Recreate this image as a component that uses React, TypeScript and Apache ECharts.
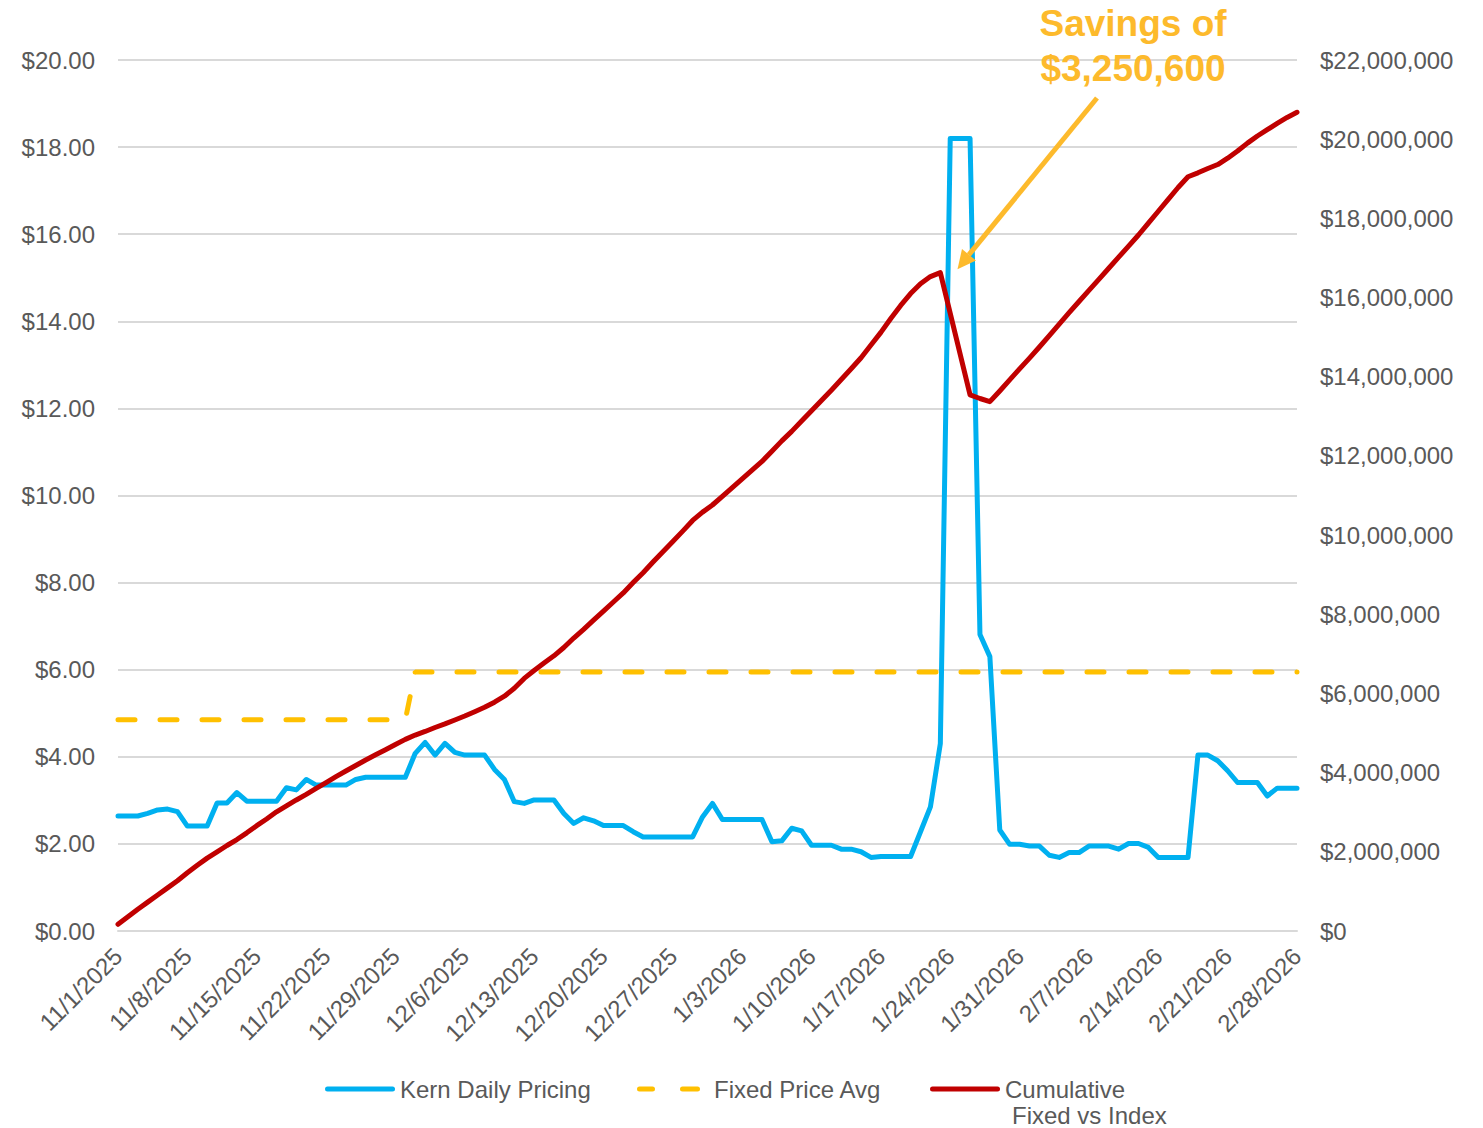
import React, { useEffect, useRef } from "react";
import * as echarts from "echarts";

// Categories: every day from 11/1/2025 to 2/28/2026
const dates: string[] = [];
for (let i = 0; i < 120; i++) {
  const d = new Date(2025, 10, 1 + i);
  dates.push(`${d.getMonth() + 1}/${d.getDate()}/${d.getFullYear()}`);
}

// Kern Daily Pricing ($/unit), left axis
const kernDaily: number[] = [
  2.64, 2.64, 2.64, 2.70, 2.78, 2.80, 2.74, 2.41, 2.41, 2.41,
  2.94, 2.94, 3.18, 2.98, 2.98, 2.98, 2.98, 3.29, 3.24, 3.48,
  3.35, 3.35, 3.35, 3.35, 3.48, 3.53, 3.53, 3.53, 3.53, 3.53,
  4.08, 4.33, 4.04, 4.31, 4.10, 4.04, 4.04, 4.04, 3.71, 3.48,
  2.97, 2.93, 3.01, 3.01, 3.01, 2.70, 2.47, 2.60, 2.53, 2.42,
  2.42, 2.42, 2.28, 2.16, 2.16, 2.16, 2.16, 2.16, 2.16, 2.62,
  2.93, 2.56, 2.56, 2.56, 2.56, 2.56, 2.05, 2.07, 2.36, 2.30,
  1.97, 1.97, 1.97, 1.88, 1.88, 1.82, 1.69, 1.71, 1.71, 1.71,
  1.71, 2.28, 2.85, 4.30, 18.20, 18.20, 18.20, 6.81, 6.30, 2.32,
  1.99, 1.99, 1.95, 1.95, 1.74, 1.69, 1.80, 1.80, 1.95, 1.95,
  1.95, 1.88, 2.01, 2.01, 1.92, 1.69, 1.69, 1.69, 1.69, 4.04,
  4.04, 3.91, 3.68, 3.41, 3.41, 3.41, 3.10, 3.28, 3.28, 3.28,
];

// Fixed Price Avg ($/unit), left axis
const fixedPriceAvg: number[] = [
  4.85, 4.85, 4.85, 4.85, 4.85, 4.85, 4.85, 4.85, 4.85, 4.85,
  4.85, 4.85, 4.85, 4.85, 4.85, 4.85, 4.85, 4.85, 4.85, 4.85,
  4.85, 4.85, 4.85, 4.85, 4.85, 4.85, 4.85, 4.85, 4.85, 4.85,
  5.95, 5.95, 5.95, 5.95, 5.95, 5.95, 5.95, 5.95, 5.95, 5.95,
  5.95, 5.95, 5.95, 5.95, 5.95, 5.95, 5.95, 5.95, 5.95, 5.95,
  5.95, 5.95, 5.95, 5.95, 5.95, 5.95, 5.95, 5.95, 5.95, 5.95,
  5.95, 5.95, 5.95, 5.95, 5.95, 5.95, 5.95, 5.95, 5.95, 5.95,
  5.95, 5.95, 5.95, 5.95, 5.95, 5.95, 5.95, 5.95, 5.95, 5.95,
  5.95, 5.95, 5.95, 5.95, 5.95, 5.95, 5.95, 5.95, 5.95, 5.95,
  5.95, 5.95, 5.95, 5.95, 5.95, 5.95, 5.95, 5.95, 5.95, 5.95,
  5.95, 5.95, 5.95, 5.95, 5.95, 5.95, 5.95, 5.95, 5.95, 5.95,
  5.95, 5.95, 5.95, 5.95, 5.95, 5.95, 5.95, 5.95, 5.95, 5.95,
];

// Cumulative Fixed vs Index ($), right axis
const cumulative: number[] = [
  170000, 360000, 550000, 730000, 910000, 1090000, 1270000, 1470000, 1660000, 1840000,
  2000000, 2160000, 2310000, 2480000, 2660000, 2830000, 3010000, 3160000, 3310000, 3450000,
  3600000, 3750000, 3900000, 4040000, 4180000, 4320000, 4450000, 4580000, 4710000, 4840000,
  4950000, 5040000, 5140000, 5230000, 5330000, 5430000, 5540000, 5650000, 5780000, 5930000,
  6130000, 6380000, 6580000, 6770000, 6950000, 7160000, 7400000, 7620000, 7850000, 8080000,
  8310000, 8540000, 8800000, 9050000, 9320000, 9580000, 9840000, 10100000, 10370000, 10580000,
  10760000, 10980000, 11200000, 11420000, 11640000, 11860000, 12120000, 12380000, 12620000, 12880000,
  13140000, 13400000, 13660000, 13930000, 14200000, 14480000, 14800000, 15120000, 15470000, 15800000,
  16100000, 16350000, 16530000, 16630000, 15600000, 14570000, 13540000, 13450000, 13370000, 13640000,
  13920000, 14200000, 14470000, 14750000, 15040000, 15330000, 15620000, 15900000, 16180000, 16460000,
  16740000, 17020000, 17300000, 17580000, 17880000, 18180000, 18480000, 18780000, 19050000, 19150000,
  19260000, 19360000, 19520000, 19700000, 19900000, 20080000, 20240000, 20400000, 20550000, 20680000,
];

const seriesNames = ["Kern Daily Pricing", "Fixed Price Avg", "Cumulative Fixed vs Index"];
const legendLines = ["Cumulative", "Fixed vs Index"];
const annotationText = "Savings of\n$3,250,600";

const FONT = "'Liberation Sans', Arial, sans-serif";
const GREY = "#595959";
const BLUE = "#00B0F0";
const GOLD = "#FFC000";
const RED = "#C00000";
const ARROW = "#FDBA2C";

const lineIcon = "path://M2.5,0H67.5A2.5,2.5,0,0,1,67.5,5H2.5A2.5,2.5,0,0,1,2.5,0Z";
const dashIcon =
  "path://M2.5,0H15.5A2.5,2.5,0,0,1,15.5,5H2.5A2.5,2.5,0,0,1,2.5,0Z M45.5,0H60.5A2.5,2.5,0,0,1,60.5,5H45.5A2.5,2.5,0,0,1,45.5,0Z M71.9,2.4H72V2.6H71.9Z";

const legendBase = {
  top: 1076.5,
  padding: 0,
  orient: "horizontal",
  itemHeight: 5,
  selectedMode: false,
  itemStyle: { borderWidth: 0 },
  textStyle: { fontSize: 24, color: GREY, fontFamily: FONT, lineHeight: 25 },
};

export default function App() {
  const ref = useRef<HTMLDivElement>(null);

  useEffect(() => {
    if (!ref.current) return;
    const chart = echarts.init(ref.current, undefined, { renderer: "svg" });
    const option: any = {
      animation: false,
      backgroundColor: "#ffffff",
      textStyle: { fontFamily: FONT },
      grid: { left: 118, right: 186, top: 60, bottom: 197, outerBoundsMode: "none" },
      legend: [
        { ...legendBase, left: 325, itemWidth: 70, data: [{ name: seriesNames[0], icon: lineIcon }] },
        { ...legendBase, left: 637, itemWidth: 72, data: [{ name: seriesNames[1], icon: dashIcon }] },
        {
          ...legendBase,
          left: 930,
          itemWidth: 70,
          data: [{ name: seriesNames[2], icon: lineIcon }],
          formatter: () => legendLines[0],
        },
      ],
      xAxis: {
        type: "category",
        data: dates,
        boundaryGap: false,
        axisLine: { show: true, lineStyle: { color: "#D9D9D9", width: 2 } },
        axisTick: { show: false },
        splitLine: { show: false },
        axisLabel: {
          interval: 6,
          rotate: 45,
          fontSize: 24,
          color: GREY,
          fontFamily: FONT,
          margin: 21,
          showMinLabel: true,
          showMaxLabel: true,
        },
      },
      yAxis: [
        {
          type: "value",
          min: 0,
          max: 20,
          interval: 2,
          axisLine: { show: false },
          axisTick: { show: false },
          splitLine: { show: true, lineStyle: { color: "#D9D9D9", width: 2 } },
          axisLabel: {
            fontSize: 24,
            color: GREY,
            fontFamily: FONT,
            margin: 23,
            formatter: (v: number) => "$" + v.toFixed(2),
          },
        },
        {
          type: "value",
          position: "right",
          min: 0,
          max: 22000000,
          interval: 2000000,
          axisLine: { show: false },
          axisTick: { show: false },
          splitLine: { show: false },
          axisLabel: {
            fontSize: 24,
            color: GREY,
            fontFamily: FONT,
            margin: 23,
            formatter: (v: number) => "$" + v.toLocaleString("en-US"),
          },
        },
      ],
      series: [
        {
          name: seriesNames[0],
          type: "line",
          yAxisIndex: 0,
          data: kernDaily,
          symbol: "none",
          showSymbol: false,
          itemStyle: { color: BLUE },
          lineStyle: { color: BLUE, width: 5, join: "round", cap: "round" },
          emphasis: { disabled: true },
          z: 2,
        },
        {
          name: seriesNames[1],
          type: "line",
          yAxisIndex: 0,
          data: fixedPriceAvg,
          symbol: "none",
          showSymbol: false,
          itemStyle: { color: GOLD },
          lineStyle: { color: GOLD, width: 5, type: [17, 25], cap: "round" },
          emphasis: { disabled: true },
          z: 3,
        },
        {
          name: seriesNames[2],
          type: "line",
          yAxisIndex: 1,
          data: cumulative,
          symbol: "none",
          showSymbol: false,
          itemStyle: { color: RED },
          lineStyle: { color: RED, width: 5, join: "round", cap: "round" },
          emphasis: { disabled: true },
          z: 4,
        },
      ],
      graphic: [
        {
          type: "text",
          x: 1012,
          y: 1115,
          style: {
            text: legendLines[1],
            fill: GREY,
            fontSize: 24,
            fontFamily: FONT,
            align: "left",
            verticalAlign: "middle",
          },
        },
        {
          type: "text",
          x: 1133,
          y: 46,
          z: 10,
          style: {
            text: annotationText,
            fill: ARROW,
            fontSize: 37,
            fontWeight: "bold",
            fontFamily: FONT,
            align: "center",
            verticalAlign: "middle",
            lineHeight: 45,
          },
        },
        {
          type: "line",
          z: 10,
          shape: { x1: 1097, y1: 98, x2: 968.8, y2: 254.9 },
          style: { stroke: ARROW, lineWidth: 5 },
        },
        {
          type: "polygon",
          z: 10,
          shape: { points: [[957.5, 269.3], [976, 260.6], [962, 249]] },
          style: { fill: ARROW },
        },
      ],
    };
    chart.setOption(option);
    return () => chart.dispose();
  }, []);

  return (
    <div
      ref={ref}
      style={{ position: "fixed", left: 0, top: 0, width: 1483, height: 1128, background: "#fff" }}
    />
  );
}
